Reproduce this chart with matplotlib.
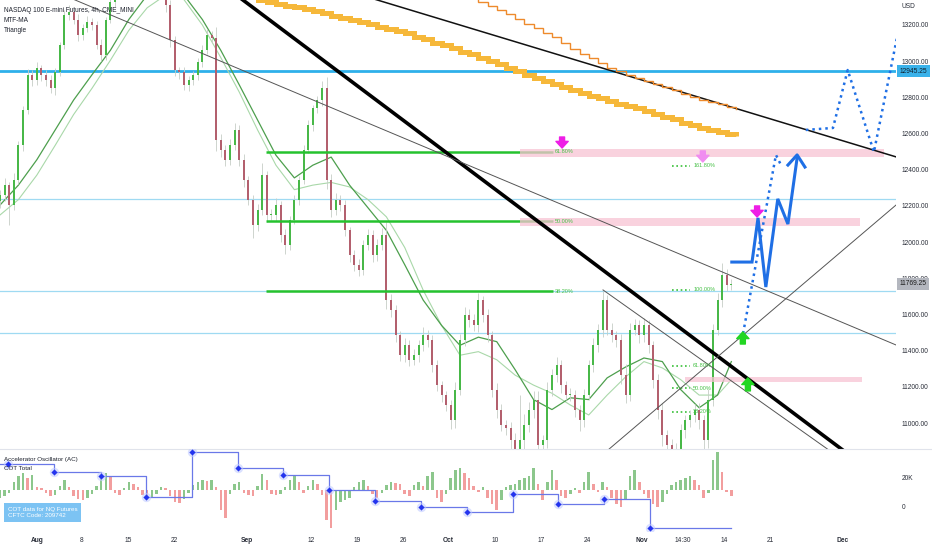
import numpy as np
import matplotlib
matplotlib.use("Agg")
import matplotlib.pyplot as plt
from matplotlib.lines import Line2D
from matplotlib.patches import Rectangle
from matplotlib.transforms import blended_transform_factory as blend

plt.rcParams['font.family'] = ['Liberation Sans', 'DejaVu Sans']

# ---------------- price data (half-day candles, NQ futures) ----------------
first_open = 12230
closes = [
    12260, 12315, 12205, 12345, 12535, 12730, 12925, 12895, 12960, 12925,
    12895, 12850, 12940, 13090, 13255, 13270, 13230, 13145, 13185, 13215,
    13200, 13090, 13035, 13230, 13325, 13395, 13420, 13475, 13505, 13560,
    13640, 13695, 13670, 13615, 13585, 13505, 13310, 13115, 12950, 12940,
    12870, 12895, 12925, 12995, 13060, 13145, 13130, 12565, 12510, 12455,
    12535, 12620, 12455, 12345, 12235, 12095, 12180, 12370, 12150, 12150,
    12205, 12040, 11985, 12125, 12235, 12345, 12510, 12645, 12740, 12785,
    12850, 12345, 12180, 12235, 12205, 12065, 11930, 11875, 11845, 11985,
    12040, 11930, 11985, 12040, 11680, 11625, 11485, 11375, 11430, 11350,
    11375, 11430, 11485, 11460, 11320, 11210, 11155, 11100, 11015, 11185,
    11460, 11600, 11570, 11540, 11680, 11600, 11485, 11185, 11075, 10990,
    10975, 10905, 10825, 10905, 10990, 11075, 11130, 10880, 10905, 11185,
    11265, 11320, 11210, 11155, 11155, 11075, 11015, 11155, 11320, 11430,
    11515, 11680, 11515, 11485, 11460, 11265, 11155, 11515, 11540, 11485,
    11540, 11430, 11240, 11075, 10935, 10880, 10850, 10825, 10960, 11015,
    11045, 11075, 11015, 10905, 11130, 11515, 11680, 11820, 11765, 11769.25,
]
wick_hi = [
    30, 40, 20, 35, 25, 20, 30, 25, 35, 20,
    25, 30, 20, 15, 30, 40, 25, 30, 20, 35,
    25, 20, 30, 15, 25, 30, 20, 25, 30, 20,
    25, 30, 35, 20, 25, 30, 20, 30, 25, 20,
    30, 25, 20, 25, 30, 35, 20, 60, 30, 25,
    35, 40, 25, 30, 20, 25, 30, 70, 25, 35,
    40, 25, 30, 20, 25, 20, 25, 30, 20, 25,
    40, 60, 30, 35, 25, 30, 20, 25, 30, 25,
    35, 25, 30, 40, 70, 35, 30, 25, 40, 30,
    35, 30, 45, 30, 25, 30, 25, 20, 30, 40,
    35, 40, 30, 35, 40, 25, 30, 25, 35, 30,
    25, 30, 40, 250, 60, 40, 50, 50, 30, 40,
    35, 45, 30, 25, 40, 30, 25, 35, 30, 40,
    35, 50, 30, 40, 25, 30, 60, 40, 35, 30,
    40, 30, 25, 30, 35, 25, 30, 40, 35, 30,
    25, 30, 35, 30, 60, 30, 40, 65, 30, 25,
]
wick_lo = [
    40, 30, 110, 30, 25, 30, 20, 30, 25, 35,
    30, 25, 35, 20, 25, 30, 25, 35, 30, 25,
    30, 25, 35, 30, 20, 25, 30, 25, 20, 30,
    25, 20, 30, 35, 25, 30, 40, 35, 30, 40,
    30, 35, 25, 30, 25, 20, 30, 60, 40, 35,
    30, 25, 35, 40, 30, 70, 35, 30, 40, 30,
    35, 40, 50, 30, 25, 30, 25, 20, 30, 25,
    30, 50, 40, 30, 35, 30, 40, 35, 30, 25,
    30, 40, 35, 30, 50, 40, 35, 30, 40, 35,
    30, 35, 30, 40, 35, 30, 40, 35, 50, 40,
    30, 35, 40, 30, 35, 40, 35, 40, 45, 35,
    40, 50, 60, 385, 60, 40, 45, 100, 60, 40,
    35, 40, 45, 30, 35, 40, 60, 35, 30, 40,
    35, 40, 30, 35, 40, 50, 45, 35, 30, 40,
    35, 40, 45, 50, 60, 70, 150, 120, 50, 40,
    35, 40, 45, 100, 40, 35, 30, 40, 35, 30,
]

# MTF moving averages (read every 4 bars)
ma_bars = list(range(0, 157, 4)) + [159]
ma_dark = [12205, 12315, 12455, 12620, 12785, 12925, 13060, 13230, 13365, 13420,
           13365, 13230, 13060, 12870, 12675, 12480, 12355, 12425, 12470, 12315,
           12190, 12065, 11875, 11680, 11540, 11430, 11475, 11450, 11295, 11130,
           11075, 11140, 11130, 11250, 11310, 11360, 11340, 11185, 11085, 11155,
           11340]
ma_light = [12150, 12235, 12370, 12535, 12705, 12850, 13005, 13170, 13295, 13365,
            13340, 13200, 13020, 12830, 12620, 12425, 12290, 12315, 12330, 12305,
            12235, 12140, 11970, 11735, 11540, 11375, 11395, 11350, 11265, 11210,
            11165, 11100, 11045, 11155, 11255, 11340, 11305, 11240, 11155, 11155,
            11240]

# daily (stepped) MAs in orange
orange_thick_bars = list(range(52, 161, 2))
orange_thick = [13360, 13349,
                13338, 13327, 13316, 13305, 13297, 13288, 13277, 13266, 13252, 13239,
                13228, 13216, 13203, 13189, 13178, 13167, 13153, 13136, 13120, 13103,
                13087, 13073, 13053, 13037, 13020, 13001, 12984, 12965, 12946, 12926,
                12907, 12891, 12874, 12855, 12841, 12824, 12810, 12794, 12780, 12766,
                12752, 12739, 12725, 12708, 12692, 12678, 12661, 12645, 12631, 12620,
                12609, 12598, 12587]
orange_thin_bars = list(range(102, 161, 2))
orange_thin = [13355, 13327, 13305, 13283, 13258, 13233, 13205, 13181, 13156, 13131,
               13100, 13067, 13040, 13015, 12990, 12965, 12946, 12926, 12907, 12891,
               12874, 12855, 12838, 12819, 12802, 12788, 12774, 12761, 12747, 12736]

# Accelerator oscillator (per candle)
ac_values = [
    -80, -60, -30, 80, 140, 170, 120, 150, 30, 20,
    -30, -60, -50, 40, 100, 30, -60, -90, -100, -80,
    -40, 40, 120, 170, 140, -30, -50, 20, 80, 60,
    30, -50, -100, -80, -40, 30, 20, -60, -120, -130,
    -90, -30, 50, 80, 100, 90, 100, 30, -200, -280,
    -40, 60, 80, -30, -50, -60, 40, 160, 100, -40,
    -50, -40, 30, 100, 150, 80, -30, 40, 100, 60,
    -50, -300, -380, -200, -120, -100, -80, 30, 80, 100,
    40, -40, -80, -30, 50, 80, 70, 60, -40, -60,
    50, 80, 40, 140, 180, -80, -120, -40, 120, 200,
    220, 170, 120, 40, -20, 30, -80, -140, -200, -100,
    30, 50, 60, 100, 120, 140, 220, 60, -100, 80,
    200, 100, -60, -80, -40, 20, -30, 80, 180, 60,
    -20, 80, 30, -80, -140, -170, -100, 140, 200, 80,
    -40, -80, -140, -170, -120, -40, 50, 80, 100, 120,
    140, 100, 50, -80, -30, 300, 380, 180, -20, -60,
]

# COT total (weekly reports)
cot_bars = [1.7, 11.7, 22.0, 31.7, 41.7, 51.7, 61.5, 71.5, 81.5, 91.5,
            101.5, 111.5, 121.3, 131.3, 141.3]
cot_values = [29500, 24200, 21400, 6700, 38200, 27000, 22100, 11600, 3900, -400,
              -3600, 8800, 1800, 5300, -15100]

# axis labels
date_pos = [8.04, 17.83, 27.83, 37.83, 53.70, 67.61, 77.61, 87.61, 97.39, 107.61,
            117.61, 127.61, 139.57, 148.48, 157.39, 167.39, 183.26]
date_labels = ['Aug', '8', '15', '22', 'Sep', '12', '19', '26', 'Oct', '10',
               '17', '24', 'Nov', '14:30', '14', '21', 'Dec']
month_labels = {'Aug', 'Sep', 'Oct', 'Nov', 'Dec'}
price_ticks = list(range(11000, 13201, 200))
last_price = 11769.25
level_price = 12945.25
light_levels = [12240, 11730, 11500]

fib_levels = [11730, 12115, 12500]
fib_names = ['38.20%', '50.00%', '61.80%']
ext_levels = [11062, 11193, 11316, 11736, 12421]
ext_names = ['38.20%', '50.00%', '61.80%', '100.00%', '161.80%']

# user drawings (bar index, price)
thick_line = [(45, 13487), (190, 10722)]
thin_line = [(5, 13459), (196, 11419)]
upper_line = [(75, 13392), (196, 12462)]
tri_down = [(131.1, 11736), (182.6, 10808)]
tri_up = [(130.4, 10813), (194.8, 12205)]
zones = [(113.0, 192.2, 12471, 12515), (113.0, 187.0, 12089, 12134),
         (148.9, 187.4, 11228, 11255)]
path_solid_k = [159.1, 163.5, 164.8, 166.5, 169.1, 171.3, 173.3]
path_solid_p = [11890, 11890, 12134, 11752, 12239, 12100, 12465]
path_dot1_k = [161.3, 168.7, 169.8]
path_dot1_p = [11460, 12482, 12426]
path_dot2_k = [175.2, 181.1, 184.3, 190.0, 195.0]
path_dot2_p = [12620, 12631, 12951, 12498, 13128]
arrows_down = [(122.2, 12581, 12520, '#ee1ee6'), (152.8, 12504, 12443, '#f08cf0'),
               (164.6, 12200, 12139, '#ee1ee6')]
arrows_up = [(161.5, 11437, 11504), (162.6, 11178, 11250)]

# ---------------- figure ----------------
W, H = 932, 550
fig = plt.figure(figsize=(W / 100, H / 100), dpi=100)
fig.patch.set_facecolor('white')
ax = fig.add_axes([0, 1 - 449 / H, 896 / W, 449 / H])
ax_ac = fig.add_axes([0, 19 / H, 896 / W, 82 / H])
ax2 = fig.add_axes([0, 19 / H, 896 / W, 82 / H])
ax2.patch.set_alpha(0)
ax_ac.set_zorder(1)
ax2.set_zorder(2)

XL = (0, 194.8)
for a in (ax, ax_ac, ax2):
    a.set_xlim(*XL)
    for s in a.spines.values():
        s.set_visible(False)

ax.set_ylim(10857, 13338)
TEXT = '#2a2e39'
FS = 4.8

# horizontal levels
ax.axhline(level_price, color='#2eb0ea', lw=2.0, zorder=2)
for lv in light_levels:
    ax.axhline(lv, color='#9fdaf2', lw=0.9, zorder=1)

# moving averages
ax.plot(ma_bars, ma_light, color='#a9d8a9', lw=0.8, zorder=2)
ax.plot(ma_bars, ma_dark, color='#4d9f4d', lw=0.9, zorder=2.1)

# candles
c = np.array(closes, dtype=float)
o = np.array([first_open] + closes[:-1], dtype=float)
kk = np.arange(len(c))
hi = np.maximum(o, c) + np.array(wick_hi)
lo = np.minimum(o, c) - np.array(wick_lo)
up = c >= o
ax.vlines(kk, lo, hi, color='#c6cdc6', lw=0.6, zorder=3)
ax.bar(kk, np.maximum(np.abs(c - o), 6), bottom=np.minimum(o, c), width=0.42,
       color=np.where(up, '#48b848', '#b3606e'), zorder=3.5)

# fib retracement
ax.hlines(fib_levels, 57.8, 120.2, color='#25c22e', lw=1.8, zorder=4)
for lv, nm in zip(fib_levels, fib_names):
    ax.text(120.7, lv, nm, color='#46c046', fontsize=4, va='center', zorder=6)
# fib extension
ax.hlines(ext_levels, 146.1, 150.0, color='#38c038', lw=1.2,
          linestyles=[(0, (1, 1.6))], zorder=4)
for lv, nm in zip(ext_levels, ext_names):
    ax.text(150.7, lv, nm, color='#46c046', fontsize=4, va='center', zorder=6)

# zones
for k0, k1, p0, p1 in zones:
    ax.add_patch(Rectangle((k0, p0), k1 - k0, p1 - p0, fc='#f7c3d3', ec='none',
                           alpha=0.75, zorder=4.5))

# trend lines
def seg(pts, **kw):
    ax.plot([pts[0][0], pts[1][0]], [pts[0][1], pts[1][1]], **kw)

seg(thick_line, color='black', lw=2.6, zorder=5)
seg(thin_line, color='#555555', lw=0.7, zorder=5)
seg(upper_line, color='#111111', lw=1.1, zorder=5)
seg(tri_down, color='#555555', lw=0.7, zorder=5)
seg(tri_up, color='#555555', lw=0.7, zorder=5)

# orange stepped MAs
ax.plot(orange_thick_bars, orange_thick, drawstyle='steps-post', color='#f6b83a',
        lw=3.6, zorder=5, solid_joinstyle='miter', solid_capstyle='butt')
ax.plot(orange_thin_bars, orange_thin, drawstyle='steps-post', color='#ee8a2c',
        lw=1.0, zorder=5, solid_joinstyle='miter')

# projected paths
BLUE = '#1f6fe5'
ax.plot(path_solid_k, path_solid_p, color=BLUE, lw=2.2, zorder=6,
        solid_joinstyle='miter')
ax.plot([171.3, 173.3, 175.0], [12426, 12482, 12415], color=BLUE, lw=2.2, zorder=6)
ax.plot(path_dot1_k, path_dot1_p, color=BLUE, lw=1.8, ls=(0, (1, 1.6)), zorder=6)
ax.plot(path_dot2_k, path_dot2_p, color=BLUE, lw=1.8, ls=(0, (1, 1.6)), zorder=6)

# arrows
astyle = 'simple,head_length=0.6,head_width=1.1,tail_width=0.45'
for k, p_tail, p_tip, col in arrows_down:
    ax.annotate('', xy=(k, p_tip), xytext=(k, p_tail),
                arrowprops=dict(arrowstyle=astyle, color=col, mutation_scale=8,
                                shrinkA=0, shrinkB=0), zorder=7)
for k, p_tail, p_tip in arrows_up:
    ax.annotate('', xy=(k, p_tip), xytext=(k, p_tail),
                arrowprops=dict(arrowstyle=astyle, color='#22d622', mutation_scale=8,
                                shrinkA=0, shrinkB=0), zorder=7)

# price axis
ax.set_xticks([])
ax.yaxis.tick_right()
ax.set_yticks(price_ticks)
ax.set_yticklabels([f'{v:.2f}' for v in price_ticks])
ax.tick_params(axis='y', length=0, pad=3.8, labelsize=FS, labelcolor=TEXT)
tr = blend(ax.transAxes, ax.transData)
ax.text(1.004, level_price, f'{level_price:.2f}', transform=tr, fontsize=FS,
        va='center', ha='left', color='#10202c', clip_on=False, zorder=10,
        bbox=dict(boxstyle='square,pad=0.35', fc='#3ab2ea', ec='none'))
ax.text(1.004, last_price, f'{last_price:.2f}', transform=tr, fontsize=FS,
        va='center', ha='left', color='#1a1a1a', clip_on=False, zorder=10,
        bbox=dict(boxstyle='square,pad=0.35', fc='#b4b7bf', ec='none'))
ax.text(1.006, 1 - 7 / 449, 'USD', transform=ax.transAxes, fontsize=FS,
        va='center', ha='left', color=TEXT, clip_on=False)

# legend texts
for i, t in enumerate(['NASDAQ 100 E-mini Futures, 4h, CME_MINI', 'MTF-MA', 'Triangle']):
    ax.text(4 / 896, 1 - (10 + 10 * i) / 449, t, transform=ax.transAxes, fontsize=4.7,
            va='center', ha='left', color='#1e222d', zorder=10)

# ---------------- lower pane ----------------
ax_ac.set_ylim(-410, 410)
ac = np.array(ac_values, dtype=float)
ac_up = np.concatenate([[True], ac[1:] > ac[:-1]])
ax_ac.bar(np.arange(len(ac)), ac, width=0.55,
          color=np.where(ac_up, '#8cc78c', '#f29e9e'), zorder=2)
ax_ac.set_xticks([])
ax_ac.set_yticks([])

ax2.set_ylim(-17193, 40350)
xs = [XL[0]] + cot_bars + [len(closes) - 1]
ys = [cot_values[0]] + cot_values + [cot_values[-1]]
ax2.plot(xs, ys, drawstyle='steps-post', color='#6a78e8', lw=0.9, zorder=3)
ax2.scatter(cot_bars, cot_values, s=45, color='#c2ccff', alpha=0.6, lw=0, zorder=4)
ax2.scatter(cot_bars, cot_values, s=10, marker='D', color='#2434ee', lw=0, zorder=5)
ax2.yaxis.tick_right()
ax2.set_yticks([0, 20000])
ax2.set_yticklabels(['0', '20K'])
ax2.tick_params(axis='y', length=0, pad=3.8, labelsize=FS, labelcolor=TEXT)
ax2.set_xticks(date_pos)
ax2.set_xticklabels(date_labels)
ax2.tick_params(axis='x', length=0, pad=4.0, labelsize=FS, labelcolor=TEXT)
for lab in ax2.get_xticklabels():
    if lab.get_text() in month_labels:
        lab.set_fontweight('bold')

ax2.text(4 / 896, (531 - 459) / 82, 'Accelerator Oscillator (AC)', transform=ax2.transAxes,
         fontsize=4.5, va='center', ha='left', color='#1e222d', zorder=10)
ax2.text(4 / 896, (531 - 469) / 82, 'COT Total', transform=ax2.transAxes,
         fontsize=4.5, va='center', ha='left', color='#1e222d', zorder=10)
ax2.text(8 / 896, (531 - 507) / 82, 'COT data for NQ Futures\nCFTC Code: 209742',
         transform=ax2.transAxes, fontsize=4.5, va='top', ha='left', color='white',
         linespacing=1.3, zorder=10,
         bbox=dict(boxstyle='square,pad=0.6', fc='#7cc3f3', ec='none'))

fig.add_artist(Line2D([0, 1], [1 - 449 / H] * 2, color='#e0e3eb', lw=0.8))

fig.savefig('out.png', dpi=100, facecolor='white')
